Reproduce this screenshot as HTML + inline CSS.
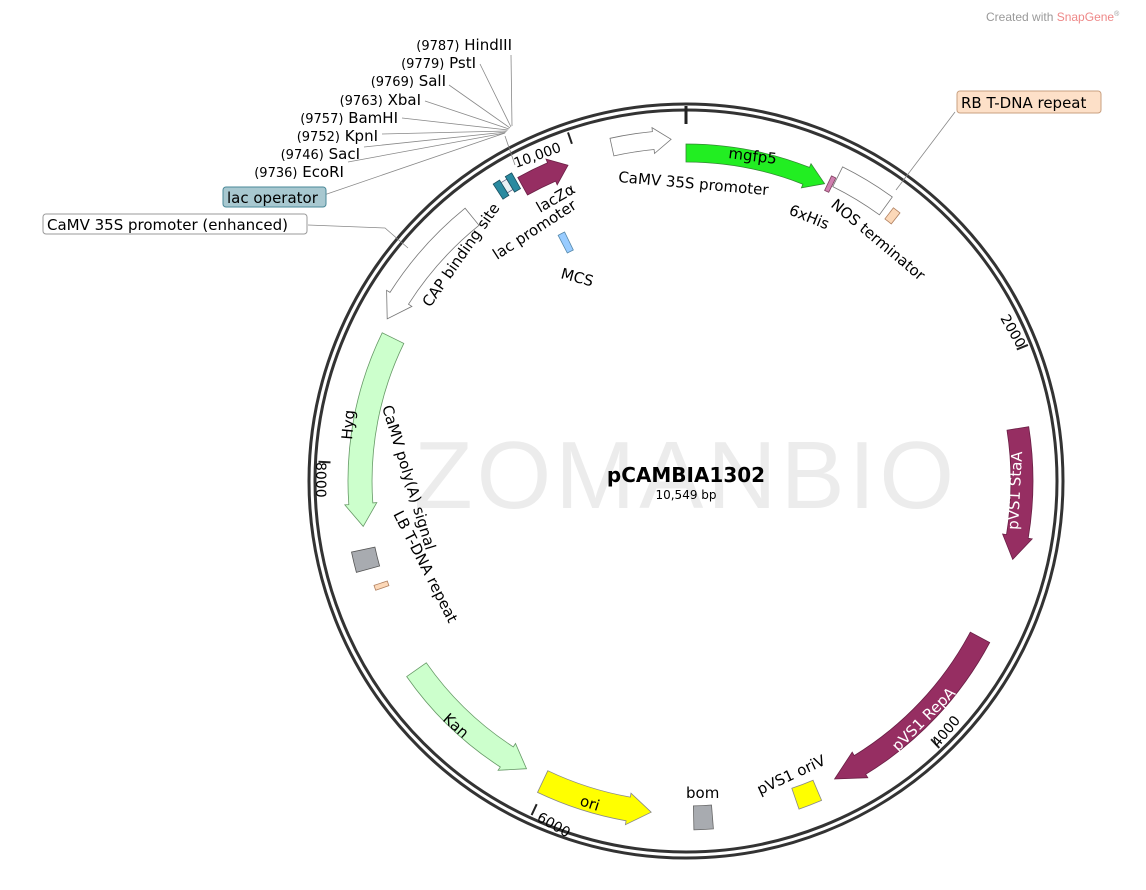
<!DOCTYPE html>
<html><head><meta charset="utf-8"><style>
html,body{margin:0;padding:0;background:#fff;}
svg{display:block;font-family:"DejaVu Sans","Liberation Sans",sans-serif;}
</style></head><body>
<svg id="s" width="1146" height="890" viewBox="0 0 1146 890" xmlns="http://www.w3.org/2000/svg">
<text x="686" y="508" text-anchor="middle" font-size="96" fill="#ececec" font-family="Liberation Sans, sans-serif" letter-spacing="4">ZOMANBIO</text>
<circle cx="686" cy="481" r="377" fill="none" stroke="#333" stroke-width="3"/>
<circle cx="686" cy="481" r="371" fill="none" stroke="#333" stroke-width="3"/>
<g id="feat"></g>
<line x1="686" y1="106" x2="686" y2="124" stroke="#222" stroke-width="3"/>
<g font-size="13" fill="#000">
<text x="686" y="482" text-anchor="middle" font-size="20" font-weight="bold">pCAMBIA1302</text>
<text x="686" y="499" text-anchor="middle" font-size="12">10,549 bp</text>
<text x="986" y="21" font-size="12" fill="#999" font-family="Liberation Sans,sans-serif">Created with <tspan fill="#e88">SnapGene</tspan><tspan font-size="7" dy="-5">®</tspan></text>
<text x="512" y="50" text-anchor="end" font-size="15"><tspan font-size="13">(9787)</tspan>  HindIII</text>
<text x="476" y="68" text-anchor="end" font-size="15"><tspan font-size="13">(9779)</tspan>  PstI</text>
<text x="446" y="86" text-anchor="end" font-size="15"><tspan font-size="13">(9769)</tspan>  SalI</text>
<text x="421" y="105" text-anchor="end" font-size="15"><tspan font-size="13">(9763)</tspan>  XbaI</text>
<text x="398" y="123" text-anchor="end" font-size="15"><tspan font-size="13">(9757)</tspan>  BamHI</text>
<text x="378" y="141" text-anchor="end" font-size="15"><tspan font-size="13">(9752)</tspan>  KpnI</text>
<text x="360" y="159" text-anchor="end" font-size="15"><tspan font-size="13">(9746)</tspan>  SacI</text>
<text x="344" y="177" text-anchor="end" font-size="15"><tspan font-size="13">(9736)</tspan>  EcoRI</text>
<g stroke="#888" stroke-width="0.8" fill="none">
<path d="M511 55 L512 126 M480 64 L511 127 M449 85 L510 128 M425 101 L509 129 M402 118 L508 130 M382 134 L507 131 M364 147 L506 132 M348 162 L505 133 M324 195 L505 133 M505 136 L515 165 M308 225 L385 228 L408 248 M896 190 L955 112"/>
</g>
<rect x="223" y="187" width="103" height="20" rx="3" fill="#a8c8d0" stroke="#4a8898"/>
<text x="227" y="203" font-size="15">lac operator</text>
<rect x="43" y="214" width="264" height="20" rx="3" fill="#fff" stroke="#999"/>
<text x="47" y="230" font-size="15">CaMV 35S promoter (enhanced)</text>
<rect x="957" y="91" width="144" height="22" rx="3" fill="#fde0c8" stroke="#c9a080"/>
<text x="961" y="108" font-size="15">RB T-DNA repeat</text>
<text x="618" y="182" font-size="15" transform="rotate(5 618 182)">CaMV 35S promoter</text>
<text x="728" y="158" font-size="15" transform="rotate(7 728 158)">mgfp5</text>
<text x="788" y="214" font-size="15" transform="rotate(22 788 214)">6xHis</text>
<text x="830" y="206" font-size="15" transform="rotate(40 830 206)">NOS terminator</text>
<text x="516" y="168" font-size="14" transform="rotate(-20 516 168)">10,000</text>
<text x="1000" y="318" font-size="14" transform="rotate(60 1000 318)">2000</text>
<text x="938" y="748" font-size="14" transform="rotate(-50 938 748)">4000</text>
<text x="536" y="820" font-size="14" transform="rotate(30 536 820)">6000</text>
<text x="316" y="462" font-size="14" transform="rotate(90 316 462)">8000</text>
<text x="540" y="213" font-size="15" transform="rotate(-30 540 213)">lacZα</text>
<text x="497" y="260" font-size="15" transform="rotate(-33 497 260)">lac promoter</text>
<text x="430" y="308" font-size="15" transform="rotate(-55 430 308)">CAP binding site</text>
<text x="560" y="278" font-size="15" transform="rotate(15 560 278)">MCS</text>
<text x="382" y="407" font-size="15" transform="rotate(73 382 407)">CaMV poly(A) signal</text>
<text x="393" y="514" font-size="15" transform="rotate(63 393 514)">LB T-DNA repeat</text>
<text x="1018" y="530" font-size="15" fill="#fff" transform="rotate(-87 1018 530)">pVS1 StaA</text>
<text x="898" y="752" font-size="15" fill="#fff" transform="rotate(-45 898 752)">pVS1 RepA</text>
<text x="760" y="795" font-size="15" transform="rotate(-25 760 795)">pVS1 oriV</text>
<text x="686" y="798" font-size="15">bom</text>
<text x="579" y="805" font-size="15" transform="rotate(18 579 805)">ori</text>
<text x="442" y="720" font-size="15" transform="rotate(42 442 720)">Kan</text>
<text x="352" y="440" font-size="15" transform="rotate(-85 352 440)">Hyg</text>
</g>
</svg>
<script>
var cx=686,cy=481,NS="http://www.w3.org/2000/svg",g=document.getElementById("feat");
function pt(a,r){var t=a*Math.PI/180;return (cx+r*Math.sin(t)).toFixed(1)+" "+(cy-r*Math.cos(t)).toFixed(1);}
function add(d,f,s){var p=document.createElementNS(NS,"path");p.setAttribute("d",d);p.setAttribute("fill",f);p.setAttribute("stroke",s||"#555");p.setAttribute("stroke-width","0.8");g.insertBefore(p,g.firstChild);}
function arrow(a1,a2,r,w,f,s,h){h=h||4.5;var sg=a2>a1?1:-1,ah=a2-sg*h,ro=r+w/2,ri=r-w/2,sw=sg>0?1:0,lg=Math.abs(ah-a1)>180?1:0;
add("M"+pt(a1,ro)+" A"+ro+" "+ro+" 0 "+lg+" "+sw+" "+pt(ah,ro)+" L"+pt(ah,ro+4)+" L"+pt(a2,r)+" L"+pt(ah,ri-4)+" L"+pt(ah,ri)+" A"+ri+" "+ri+" 0 "+lg+" "+(1-sw)+" "+pt(a1,ri)+" Z",f,s);}
function box(a1,a2,r,w,f,s){var ro=r+w/2,ri=r-w/2,sw=a2>a1?1:0;
add("M"+pt(a1,ro)+" A"+ro+" "+ro+" 0 0 "+sw+" "+pt(a2,ro)+" L"+pt(a2,ri)+" A"+ri+" "+ri+" 0 0 "+(1-sw)+" "+pt(a1,ri)+" Z",f,s);}
arrow(-12.5,-2.5,342,18,"#fff","#777",3);
arrow(0,25,328,18,"#22ee22","#338833",3.5);
box(25.5,26.3,330,16,"#d080b0","#804060");
box(26.5,36,340,22,"#fff","#777");
box(37.2,38.6,336,14,"#fcd8b8","#b08060");
arrow(81,103.5,336,22,"#962e62","#6a1f45",4);
arrow(118,153.5,333,22,"#962e62","#6a1f45",5);
box(157,161,336,22,"#ffff00","#888");
box(175.5,178.7,337,24,"#a8abb0","#666");
arrow(205.5,186,333,24,"#ffff00","#888",4);
arrow(235,209,329,24,"#ccffcc","#669966",4);
arrow(296,262,326,24,"#ccffcc","#669966",4);
box(254.5,258,330,24,"#a8abb0","#555");
box(250.6,251.5,322,14,"#fcd8b8","#b08060");
arrow(321,298.5,340,22,"#fff","#777",4);
arrow(331,339.5,337,20,"#962e62","#6a1f45",3);
box(327,328.2,345,18,"#2a8aa0","#1a5060");
box(329.3,330.5,345,18,"#2a8aa0","#1a5060");
box(328.2,329.3,345,12,"#e8f0f4","#668");
box(332.5,334,267,20,"#99ccff","#5588aa");
[68.3,136.5,204.8,273,341.3].forEach(function(t){var p=document.createElementNS(NS,"line");var a=pt(t,368).split(" "),b=pt(t,356).split(" ");p.setAttribute("x1",a[0]);p.setAttribute("y1",a[1]);p.setAttribute("x2",b[0]);p.setAttribute("y2",b[1]);p.setAttribute("stroke","#222");p.setAttribute("stroke-width","2");g.appendChild(p);});
</script>
</body></html>
